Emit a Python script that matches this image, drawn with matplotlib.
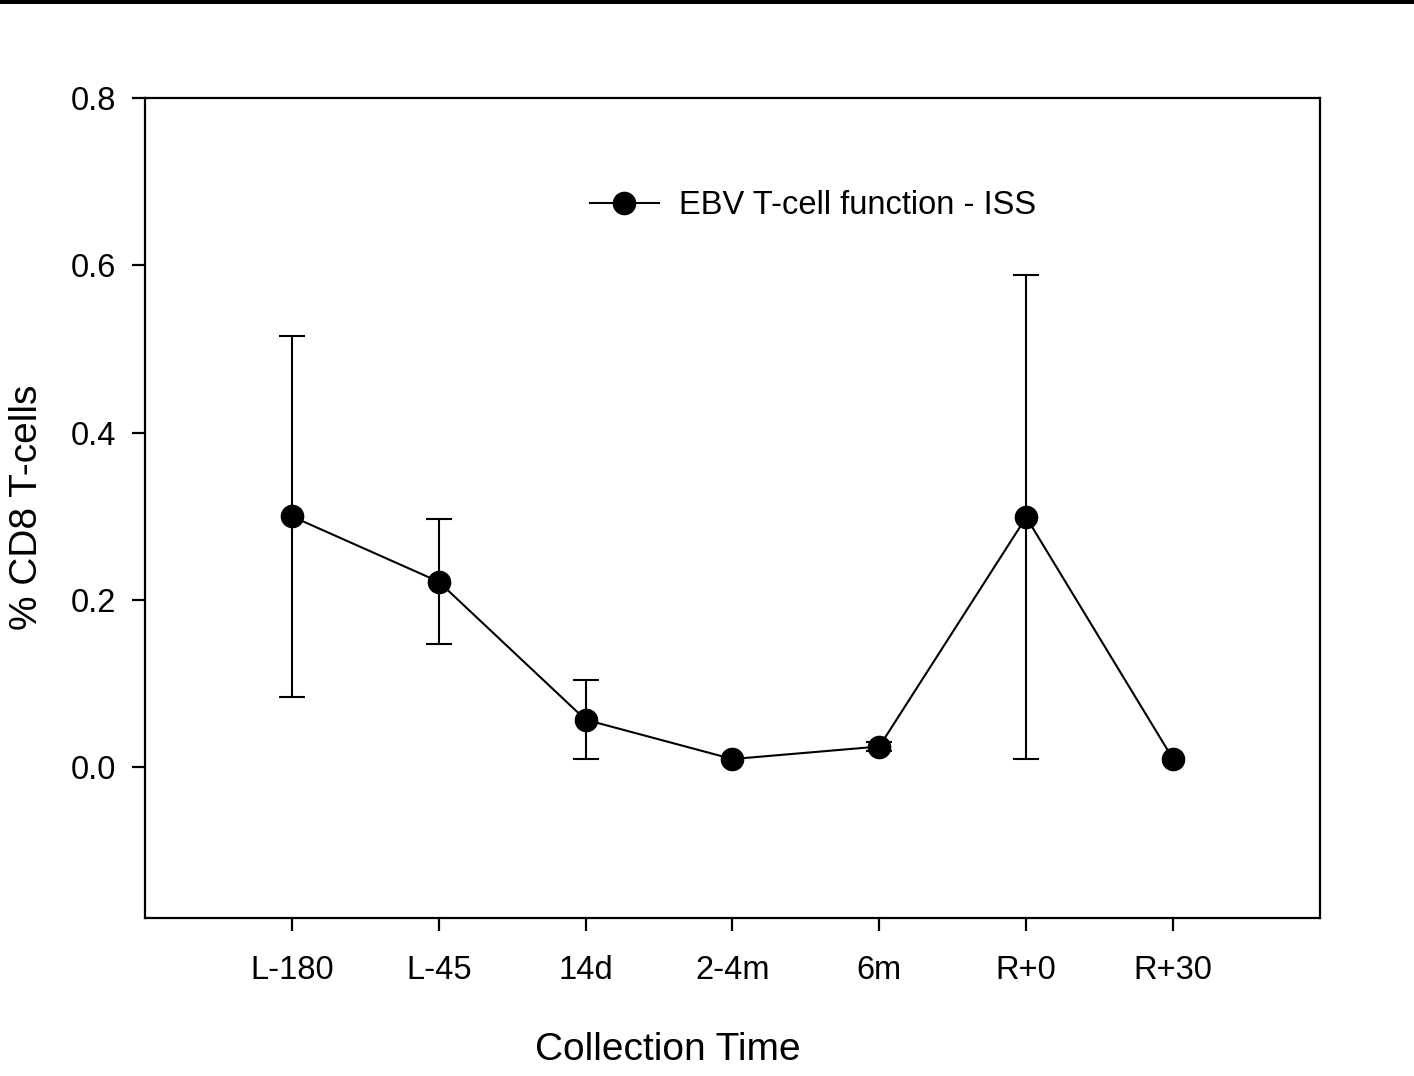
import numpy as np
import matplotlib
matplotlib.use("Agg")
import matplotlib.pyplot as plt
from matplotlib.patches import Rectangle

plt.rcParams['font.family'] = ['Liberation Sans', 'DejaVu Sans']

# EBV-specific CD8 T-cell response across collection times
times = ['L-180', 'L-45', '14d', '2-4m', '6m', 'R+0', 'R+30']
pct_cd8 = [0.300, 0.222, 0.057, 0.010, 0.025, 0.299, 0.010]
pct_err = [0.216, 0.075, 0.047, 0.0, 0.005, 0.289, 0.0]

fig = plt.figure(figsize=(14.14, 10.76), dpi=100)
ax = fig.add_axes([0.1025, 0.1468, 0.831, 0.7621])

x = np.arange(len(times))
y = np.array(pct_cd8)
err = np.array(pct_err)

ax.plot(x, y, color='black', lw=1.5, marker='o', ms=16,
        label='EBV T-cell function - ISS', zorder=3)

# only points that actually have a spread get error bars
has_err = err > 0
ax.errorbar(x[has_err], y[has_err], yerr=err[has_err], fmt='none',
            ecolor='black', elinewidth=1.5, capsize=9.5, capthick=1.5, zorder=2)

ax.set_xlim(-1, 7)
ax.set_ylim(-0.18, 0.8)
ax.set_xticks(x)
ax.set_xticklabels(times)
ax.set_yticks([0.0, 0.2, 0.4, 0.6, 0.8])
ax.set_yticklabels(['%.1f' % v for v in [0.0, 0.2, 0.4, 0.6, 0.8]])

for sp in ax.spines.values():
    sp.set_linewidth(1.6)
ax.tick_params(axis='both', direction='out', length=9.5, width=1.6, labelsize=23.5)
ax.tick_params(axis='x', pad=17)
ax.tick_params(axis='y', pad=11)

ax.set_xlabel('Collection Time', fontsize=28, va='center')
ax.xaxis.set_label_coords(0.445, -0.161)
ax.set_ylabel('% CD8 T-cells', fontsize=28, va='center')
ax.yaxis.set_label_coords(-0.1, 0.501)

fig.legend(loc='center left', bbox_to_anchor=(590 / 1414, 1 - 206 / 1076),
           frameon=False, fontsize=23.5, handlelength=2.1, handletextpad=0.62,
           borderpad=0, borderaxespad=0)

# thin black rule along the top edge
fig.patches.append(Rectangle((0, 1 - 3.5 / 1076), 1, 3.5 / 1076, transform=fig.transFigure,
                             color='black', lw=0))

fig.savefig('out.png', dpi=100)
